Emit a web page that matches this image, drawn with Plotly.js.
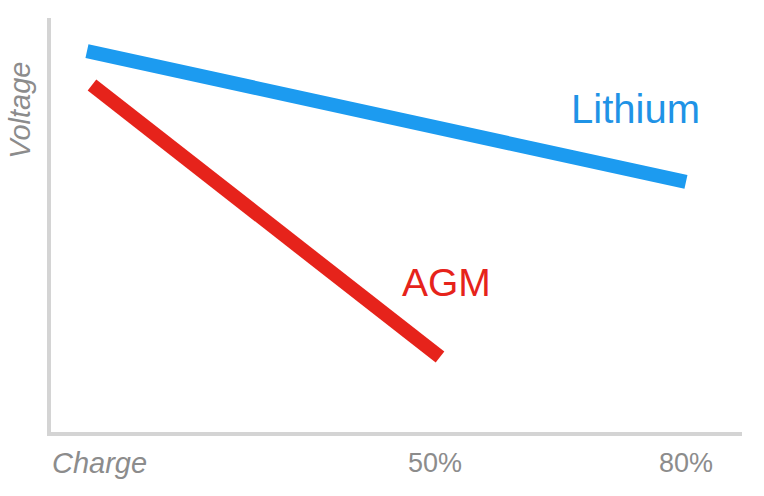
<!DOCTYPE html>
<html>
<head>
<meta charset="utf-8">
<script src="https://cdn.plot.ly/plotly-3.0.1.min.js"></script>
<style>html,body{margin:0;padding:0;background:#fff;}#chart{width:764px;height:496px;}</style>
</head>
<body>
<div id="chart"></div>
<script>
// Data (arbitrary units: charge %, voltage 0-10)
var lithiumCharge = [8.4, 80];
var lithiumVoltage = [9.2, 6.04];
var agmCharge = [9.0, 50.6];
var agmVoltage = [8.38, 1.81];
var tickValues = [50, 80];
var tickLabels = ["50%", "80%"];
var seriesNames = ["Lithium", "AGM"];

var FONT = "Liberation Sans, Arial, Helvetica, sans-serif";
var blue = "#1c9bf0";
var red = "#e6231b";
var gray = "#8c8c8c";

var traces = [
  {x: lithiumCharge, y: lithiumVoltage, mode: "lines", name: seriesNames[0],
   line: {color: blue, width: 14}, hoverinfo: "skip"},
  {x: agmCharge, y: agmVoltage, mode: "lines", name: seriesNames[1],
   line: {color: red, width: 14}, hoverinfo: "skip"}
];

var layout = {
  width: 764, height: 496,
  margin: {l: 51, r: 22, t: 18, b: 64, pad: 0},
  paper_bgcolor: "#fff", plot_bgcolor: "#fff",
  showlegend: false,
  xaxis: {range: [4.1, 86.7], showgrid: false, zeroline: false,
    showline: true, linecolor: "#d4d4d4", linewidth: 4,
    tickvals: tickValues, ticktext: tickLabels, ticks: "",
    ticklabelstandoff: 4,
    tickfont: {family: FONT, size: 27, color: gray}, fixedrange: true},
  yaxis: {range: [0, 10], showgrid: false, zeroline: false,
    showline: true, linecolor: "#d4d4d4", linewidth: 4,
    showticklabels: false, ticks: "", fixedrange: true},
  annotations: [
    {text: seriesNames[0], x: 74.0, y: 7.8, xref: "x", yref: "y", showarrow: false,
     xanchor: "center", yanchor: "middle", font: {family: FONT, size: 40, color: "#1f93e6"}},
    {text: seriesNames[1], x: 51.4, y: 3.62, xref: "x", yref: "y", showarrow: false,
     xanchor: "center", yanchor: "middle", font: {family: FONT, size: 39, color: red}},
    {text: "<i>Charge</i>", x: 0.0709, y: -0.075, xref: "paper", yref: "paper", showarrow: false,
     xanchor: "center", yanchor: "middle", font: {family: FONT, size: 29, color: gray}},
    {text: "<i>Voltage</i>", x: -0.045, y: 0.778, xref: "paper", yref: "paper", showarrow: false,
     textangle: -90, xanchor: "center", yanchor: "middle", font: {family: FONT, size: 29, color: gray}}
  ]
};

Plotly.newPlot("chart", traces, layout, {displayModeBar: false, staticPlot: true});
</script>
</body>
</html>
